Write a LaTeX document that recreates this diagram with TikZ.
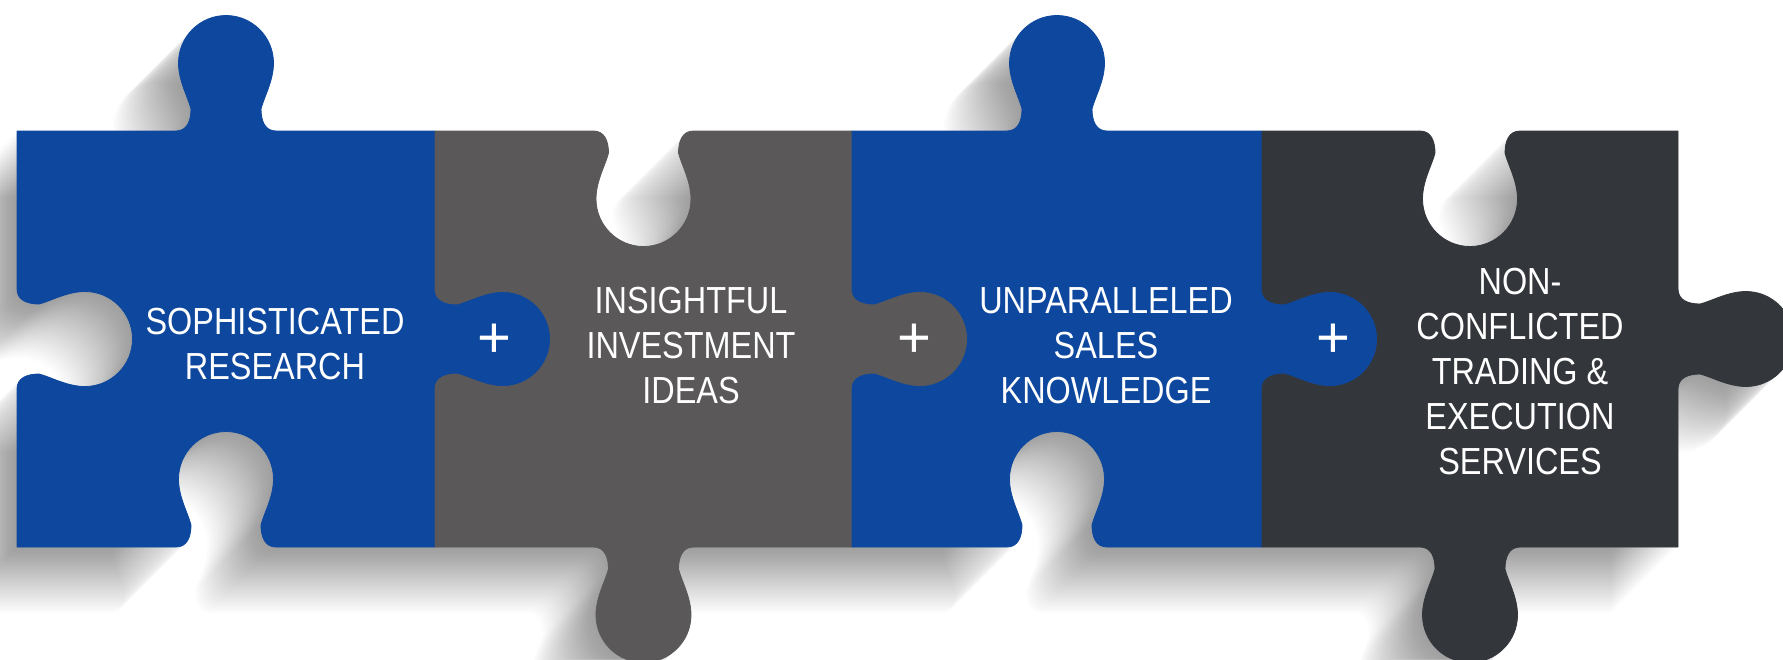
\documentclass[tikz,border=0pt]{standalone}
\usepackage{fontspec}
\newfontfamily\lblfont{Liberation Sans}[FakeStretch=0.86]
\newfontfamily\plusfont{Liberation Sans}
\definecolor{pzblue}{HTML}{0E489E}
\definecolor{pzgrey}{HTML}{5A5859}
\definecolor{pzdark}{HTML}{33363B}
% horizontal tab: #1 centre x, #2 edge y, #3 side (+1 down, -1 up), #4 direction (+1 left->right)
\newcommand\pzH[4]{%
 -- ({#1+(#4)*(-50)},{#2})
 .. controls ({#1+(#4)*(-39)},{#2}) and ({#1+(#4)*(-35)},{#2+(#3)*10}) .. ({#1+(#4)*(-35)},{#2+(#3)*22})
 .. controls ({#1+(#4)*(-38)},{#2+(#3)*34}) and ({#1+(#4)*(-47.5)},{#2+(#3)*50}) .. ({#1+(#4)*(-47.5)},{#2+(#3)*68})
 .. controls ({#1+(#4)*(-47.5)},{#2+(#3)*94.2}) and ({#1+(#4)*(-26.2)},{#2+(#3)*115.5}) .. ({#1},{#2+(#3)*115.5})
 .. controls ({#1+(#4)*26.2},{#2+(#3)*115.5}) and ({#1+(#4)*47.5},{#2+(#3)*94.2}) .. ({#1+(#4)*47.5},{#2+(#3)*68})
 .. controls ({#1+(#4)*47.5},{#2+(#3)*50}) and ({#1+(#4)*38},{#2+(#3)*34}) .. ({#1+(#4)*35},{#2+(#3)*22})
 .. controls ({#1+(#4)*35},{#2+(#3)*10}) and ({#1+(#4)*39},{#2}) .. ({#1+(#4)*50},{#2})}
% vertical tab: #1 edge x, #2 centre y, #3 side (+1 right), #4 direction (+1 top->bottom)
\newcommand\pzV[4]{%
 -- ({#1},{#2+(#4)*(-50)})
 .. controls ({#1},{#2+(#4)*(-39)}) and ({#1+(#3)*10},{#2+(#4)*(-35)}) .. ({#1+(#3)*22},{#2+(#4)*(-35)})
 .. controls ({#1+(#3)*34},{#2+(#4)*(-38)}) and ({#1+(#3)*50},{#2+(#4)*(-47.5)}) .. ({#1+(#3)*68},{#2+(#4)*(-47.5)})
 .. controls ({#1+(#3)*94.2},{#2+(#4)*(-47.5)}) and ({#1+(#3)*115.5},{#2+(#4)*(-26.2)}) .. ({#1+(#3)*115.5},{#2})
 .. controls ({#1+(#3)*115.5},{#2+(#4)*26.2}) and ({#1+(#3)*94.2},{#2+(#4)*47.5}) .. ({#1+(#3)*68},{#2+(#4)*47.5})
 .. controls ({#1+(#3)*50},{#2+(#4)*47.5}) and ({#1+(#3)*34},{#2+(#4)*38}) .. ({#1+(#3)*22},{#2+(#4)*35})
 .. controls ({#1+(#3)*10},{#2+(#4)*35}) and ({#1},{#2+(#4)*39}) .. ({#1},{#2+(#4)*50})}
\newcommand\pzStrip{(17,131) \pzH{226}{131}{-1}{1} \pzH{643.5}{131}{1}{1} \pzH{1057}{131}{-1}{1} \pzH{1470}{131}{1}{1}
 -- (1678,131) \pzV{1678}{339}{1}{1} -- (1678,547)
 \pzH{1470}{547}{1}{-1} \pzH{1057}{547}{-1}{-1} \pzH{643.5}{547}{1}{-1} \pzH{226}{547}{-1}{-1}
 -- (17,547) \pzV{17}{339}{1}{-1} -- cycle}
\begin{document}
\begin{tikzpicture}[x=1pt,y=-1pt,
  pc/.style={draw=#1,fill=#1,line width=0.8pt,line join=round},
  lbl/.style={text=white,font=\lblfont\fontsize{37.7}{45}\selectfont,align=center,inner sep=0pt},
  pls/.style={text=white,font=\plusfont\fontsize{58}{58}\selectfont,inner sep=0pt}]
\path[use as bounding box] (0,0) rectangle (1783,659);
\fill[white] (0,0) rectangle (1783,659);
\begin{scope}
\clip (0,0) rectangle (1783,659);
\foreach \k in {1,...,33}{
  \fill[black,opacity=0.011,shift={(-2*\k,2*\k)}] \pzStrip;
}
% pieces
\path[pc=pzblue] (17,131) \pzH{226}{131}{-1}{1} -- (435,131) \pzV{435}{339}{1}{1} -- (435,547)
  \pzH{226}{547}{-1}{-1} -- (17,547) \pzV{17}{339}{1}{-1} -- cycle;
\path[pc=pzgrey] (435,131) \pzH{643.5}{131}{1}{1} -- (852,131) \pzV{852}{339}{1}{1} -- (852,547)
  \pzH{643.5}{547}{1}{-1} -- (435,547) \pzV{435}{339}{1}{-1} -- cycle;
\path[pc=pzblue] (852,131) \pzH{1057}{131}{-1}{1} -- (1262,131) \pzV{1262}{339}{1}{1} -- (1262,547)
  \pzH{1057}{547}{-1}{-1} -- (852,547) \pzV{852}{339}{1}{-1} -- cycle;
\path[pc=pzdark] (1262,131) \pzH{1470}{131}{1}{1} -- (1678,131) \pzV{1678}{339}{1}{1} -- (1678,547)
  \pzH{1470}{547}{1}{-1} -- (1262,547) \pzV{1262}{339}{1}{-1} -- cycle;
\end{scope}
% labels
\node[lbl] (t1) at (275,344) {SOPHISTICATED\\RESEARCH};
\node[lbl] (t2) at (691,345.5) {INSIGHTFUL\\INVESTMENT\\IDEAS};
\node[lbl] (t3) at (1106,345.5) {UNPARALLELED\\SALES\\KNOWLEDGE};
\node[lbl] (t4) at (1520,371.5) {NON-\\CONFLICTED\\TRADING \&\\EXECUTION\\SERVICES};
\node[pls] (p1) at (494,341) {+};
\node[pls] (p2) at (914,341) {+};
\node[pls] (p3) at (1333,341) {+};
\end{tikzpicture}
\end{document}
